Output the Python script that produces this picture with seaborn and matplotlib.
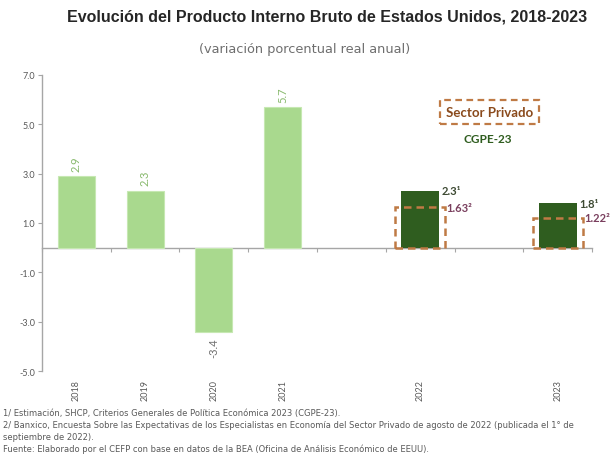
import matplotlib
matplotlib.use("Agg")
import matplotlib.pyplot as plt
import seaborn as sns

# data
slots = ["2018", "2019", "2020", "2021", "", "2022", " ", "2023"]
hist_years = ["2018", "2019", "2020", "2021"]
hist_values = [2.9, 2.3, -3.4, 5.7]
fcst_years = ["2022", "2023"]
cgpe_values = [2.3, 1.8]
private_values = [1.63, 1.22]
y_ticks = [-5.0, -3.0, -1.0, 1.0, 3.0, 5.0, 7.0]

LIGHT = "#a9d98e"
DARK = "#2f5d1f"
DASH = "#bf7a45"
GREY = "#595959"

sns.set_theme(style="white")
plt.rcParams["font.family"] = ["Lato", "DejaVu Sans"]

fig = plt.figure(figsize=(6.11, 4.60), dpi=100)
ax = fig.add_axes([0.0687, 0.1913, 0.9003, 0.6435])

sns.barplot(x=hist_years, y=hist_values, order=slots, color=LIGHT, width=0.54,
            saturation=1, edgecolor="#c6e8b2", linewidth=0.8, ax=ax)
sns.barplot(x=fcst_years, y=cgpe_values, order=slots, color=DARK, width=0.55,
            saturation=1, linewidth=0, ax=ax)
sns.barplot(x=fcst_years, y=private_values, order=slots, color=DASH, width=0.73,
            saturation=1, fill=False, linestyle=(0, (3, 2)), linewidth=1.8, ax=ax)

hist_c, cgpe_c, priv_c = ax.containers[0], ax.containers[1], ax.containers[2]

# labels on historical bars
for bar, v in zip(hist_c, hist_values):
    col = "#86b86a" if v > 0 else "#6f6f6f"
    ax.annotate(f"{v:.1f}", xy=(bar.get_x() + bar.get_width() / 2, v),
                xytext=(0, 4 if v > 0 else -4), textcoords="offset points",
                rotation=90, ha="center", va="bottom" if v > 0 else "top",
                fontsize=8, color=col)

for bar, v in zip(cgpe_c, cgpe_values):
    ax.annotate(f"{v:.1f}¹", xy=(bar.get_x() + bar.get_width(), v),
                xytext=(2, 0), textcoords="offset points", ha="left", va="center",
                fontsize=8, color="#3d4a33", fontweight="bold")
for bar, v in zip(priv_c, private_values):
    ax.annotate(f"{v:.2f}²", xy=(bar.get_x() + bar.get_width(), v),
                xytext=(1, 0), textcoords="offset points", ha="left", va="center",
                fontsize=8, color="#7a3f5e", fontweight="bold")

ax.set_ylim(-5, 7)
ax.set_xlim(-0.5, 7.5)
ax.set_yticks(y_ticks)
ax.set_yticklabels([f"{t:.1f}" for t in y_ticks], fontsize=6.5, color=GREY)
ax.tick_params(axis="y", length=3, width=0.8, color="#a6a6a6", pad=2, left=True)
ax.tick_params(axis="x", length=0, labelsize=6.5, labelcolor=GREY, pad=6)
for lbl in ax.get_xticklabels():
    lbl.set_rotation(90)

for s in ["top", "right", "bottom"]:
    ax.spines[s].set_visible(False)
ax.spines["left"].set_color("#a6a6a6")
ax.spines["left"].set_linewidth(1)
ax.set_xlabel("")
ax.set_ylabel("")

# zero axis with category boundary ticks
zero = ax.secondary_xaxis(5 / 12)
zero.set_xticks([i - 0.5 for i in range(len(slots) + 1)])
zero.set_xticklabels([])
zero.tick_params(length=3, width=0.8, color="#a6a6a6", direction="out")
zero.spines["bottom"].set_color("#a6a6a6")
zero.spines["bottom"].set_linewidth(1)
ax.set_zorder(1)

# legend-like note
ax.text(0.813, 0.875, "Sector Privado", transform=ax.transAxes, ha="center", va="center",
        fontsize=9.5, color="#8a4a1c", fontweight="bold",
        bbox=dict(boxstyle="square,pad=0.45", fc="none", ec=DASH, ls=(0, (3, 2)), lw=1.6))
ax.text(0.810, 0.784, "CGPE-23", transform=ax.transAxes, ha="center", va="center",
        fontsize=8.5, color=DARK, fontweight="bold")

fig.text(0.535, 0.962, "Evolución del Producto Interno Bruto de Estados Unidos, 2018-2023",
         ha="center", va="center", fontsize=11.5, fontweight="bold", color="#262626",
         family=["Liberation Sans", "DejaVu Sans"])
fig.text(0.498, 0.892, "(variación porcentual real anual)", ha="center", va="center",
         fontsize=9.3, color="#6e6e6e", family=["DejaVu Sans"])

notes = [
    "1/ Estimación, SHCP, Criterios Generales de Política Económica 2023 (CGPE-23).",
    "2/ Banxico, Encuesta Sobre las Expectativas de los Especialistas en Economía del Sector Privado de agosto de 2022 (publicada el 1° de",
    "septiembre de 2022).",
    "Fuente: Elaborado por el CEFP con base en datos de la BEA (Oficina de Análisis Económico de EEUU).",
]
for i, line in enumerate(notes):
    fig.text(0.005, 0.100 - i * 0.0255, line, ha="left", va="center", fontsize=6.0,
             color=GREY, family=["DejaVu Sans"])

fig.savefig("out.png", dpi=100)
